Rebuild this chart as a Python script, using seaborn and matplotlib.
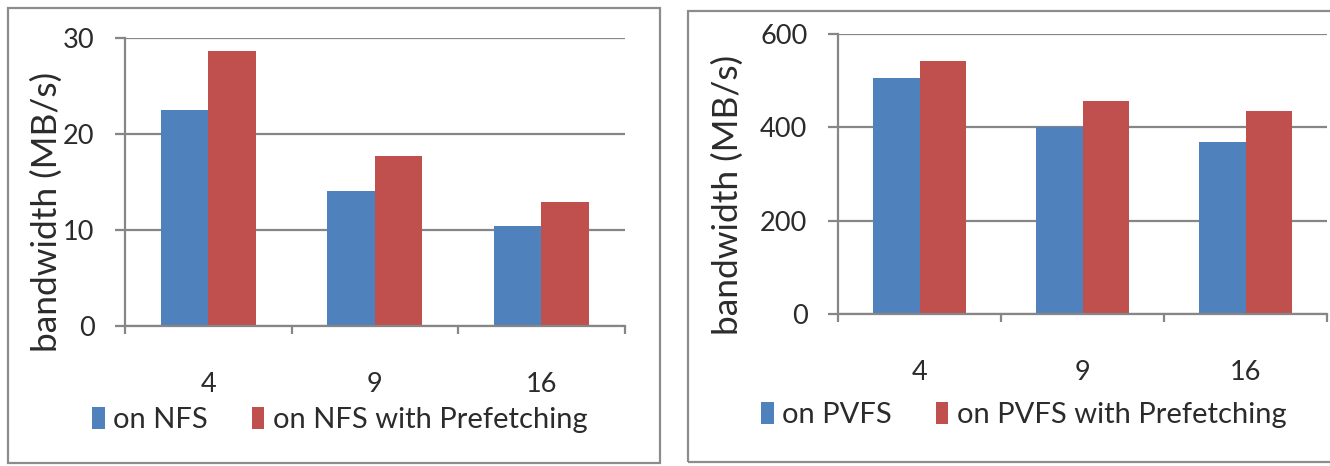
import matplotlib
matplotlib.use("Agg")
import matplotlib.pyplot as plt
from matplotlib.patches import Rectangle
from matplotlib.ticker import FixedLocator
import pandas as pd
import seaborn as sns

# Bandwidth measurements per number of nodes
nodes = ["4", "9", "16"]
nfs = [22.5, 14.1, 10.4]
nfs_prefetch = [28.6, 17.7, 12.9]
pvfs = [505, 401, 369]
pvfs_prefetch = [543, 457, 436]

nfs_labels = ["on NFS", "on NFS with Prefetching"]
pvfs_labels = ["on PVFS", "on PVFS with Prefetching"]

BLUE = "#4F81BD"
RED = "#C0504D"
GRID = "#868686"
FRAME = "#8C8C8C"
TEXT = "#2B2B2B"

sns.set_theme(style="white")
plt.rcParams["font.family"] = ["Lato", "DejaVu Sans"]


def long_table(base, pref, labels):
    return pd.DataFrame({
        "nodes": nodes * 2,
        "bandwidth": list(base) + list(pref),
        "series": [labels[0]] * len(nodes) + [labels[1]] * len(nodes),
    })


W, H = 1330, 466
fig = plt.figure(figsize=(W / 100, H / 100), dpi=100)
fig.patch.set_facecolor("white")


def px_rect(x0, y0, x1, y1):
    # pixel box (top-left origin) -> figure fraction rect
    return [x0 / W, (H - y1) / H, (x1 - x0) / W, (y1 - y0) / H]


# chart-area borders
for (x0, y0, x1, y1) in [(8, 8, 660, 463), (688, 11, 1340, 462)]:
    r = px_rect(x0, y0, x1, y1)
    fig.add_artist(Rectangle((r[0], r[1]), r[2], r[3], transform=fig.transFigure,
                             fill=False, edgecolor=FRAME, lw=1.6))

panels = [
    dict(rect=px_rect(125, 38, 624.5, 326), df=long_table(nfs, nfs_prefetch, nfs_labels),
         yticks=[0, 10, 20, 30], ylabel_xy=(47, 212), legend_xy=(340, 420)),
    dict(rect=px_rect(838, 34, 1327, 314.3), df=long_table(pvfs, pvfs_prefetch, pvfs_labels),
         yticks=[0, 200, 400, 600], ylabel_xy=(728, 195), legend_xy=(1024, 415)),
]

for p in panels:
    ax = fig.add_axes(p["rect"])
    ax.set_facecolor("none")
    sns.barplot(data=p["df"], x="nodes", y="bandwidth", hue="series",
                palette=[BLUE, RED], saturation=1, width=0.57, linewidth=0,
                edgecolor="none", ax=ax, legend=True)
    handles, labels = ax.get_legend_handles_labels()
    ax.get_legend().remove()

    ax.set_xlim(-0.5, 2.5)
    ax.set_ylim(p["yticks"][0], p["yticks"][-1])
    ax.set_yticks(p["yticks"])
    ax.set_axisbelow(True)
    ax.yaxis.grid(True, color=GRID, lw=1.6)
    ax.xaxis.grid(False)
    for s in ("top", "right"):
        ax.spines[s].set_visible(False)
    for s in ("left", "bottom"):
        ax.spines[s].set_color(GRID)
        ax.spines[s].set_linewidth(1.6)

    ax.tick_params(axis="y", direction="out", length=7, width=1.6, color=GRID,
                   pad=15, labelsize=19.5, labelcolor=TEXT, left=True)
    ax.tick_params(axis="x", which="major", length=0, pad=33, labelsize=19.5, labelcolor=TEXT)
    ax.xaxis.set_minor_locator(FixedLocator([-0.5, 0.5, 1.5, 2.5]))
    ax.tick_params(axis="x", which="minor", direction="out", length=6, width=1.6,
                   color=GRID, bottom=True)
    ax.set_xlabel("")
    ax.set_ylabel("")

    lx, ly = p["ylabel_xy"]
    fig.text(lx / W, (H - ly) / H, "bandwidth (MB/s)", rotation=90, ha="center",
             va="center", fontsize=25.5, color=TEXT)

    gx, gy = p["legend_xy"]
    fig.legend(handles, labels, loc="center", bbox_to_anchor=(gx / W, (H - gy) / H),
               bbox_transform=fig.transFigure, ncol=2, frameon=False, fontsize=21,
               handlelength=0.42, handleheight=0.75, handletextpad=0.3,
               columnspacing=1.5, labelcolor=TEXT)

fig.savefig("out.png", dpi=100, facecolor="white")
